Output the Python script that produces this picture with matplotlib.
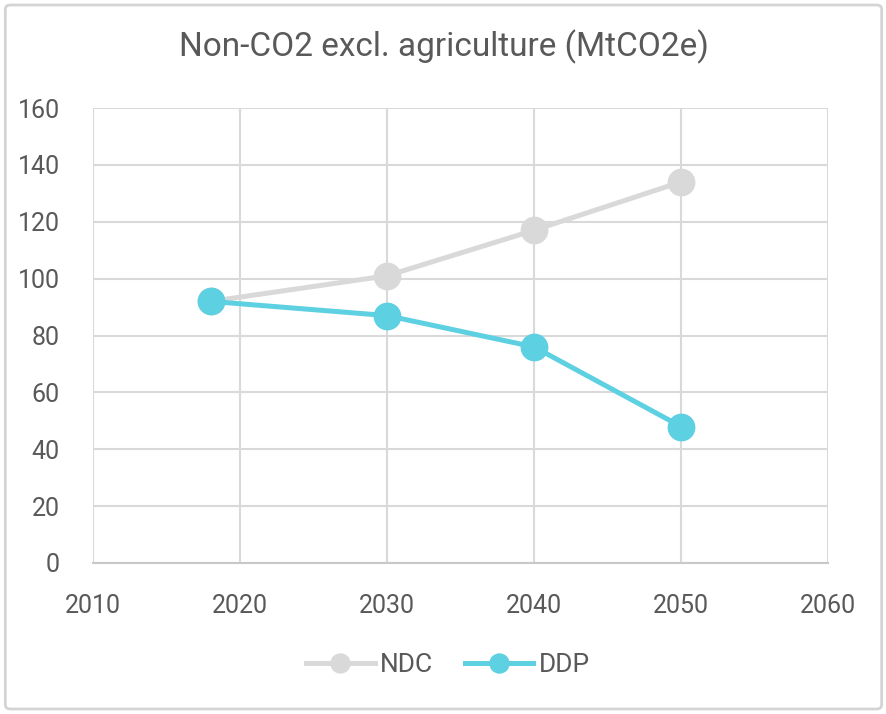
import matplotlib.pyplot as plt
from matplotlib.patches import FancyBboxPatch

years = [2018, 2030, 2040, 2050]
ndc = [92, 101, 117, 134]
ddp = [92, 87, 76, 48]

plt.rcParams['font.family'] = ['Roboto', 'DejaVu Sans']
text_color = '#595959'
grid_color = '#d9d9d9'

fig = plt.figure(figsize=(8.87, 7.14), dpi=100)
ax = fig.add_axes([0.1048, 0.2115, 0.8287, 0.6372])

ax.plot(years, ndc, color='#d9d9d9', lw=3.6, marker='o', ms=19, label='NDC', zorder=3)
ax.plot(years, ddp, color='#5dd0e2', lw=3.6, marker='o', ms=19, label='DDP', zorder=4)

ax.set_xlim(2010, 2060)
ax.set_ylim(0, 160)
ax.set_xticks(range(2010, 2061, 10))
ax.set_yticks(range(0, 161, 20))
ax.grid(True, color=grid_color, lw=1.5)
ax.set_axisbelow(True)
for side in ['top', 'right', 'left']:
    ax.spines[side].set_visible(False)
ax.spines['bottom'].set_color('#c8c8c8')
ax.spines['bottom'].set_linewidth(1.5)
ax.tick_params(length=0, labelsize=18, labelcolor=text_color)
ax.tick_params(axis='y', pad=24)
ax.tick_params(axis='x', pad=22)

fig.text(0.5, 0.934, 'Non-CO2 excl. agriculture (MtCO2e)', ha='center', va='center',
         fontsize=24, color=text_color)

leg = fig.legend(loc='center', bbox_to_anchor=(0.505, 0.068), ncol=2, frameon=False,
                 fontsize=19, handlelength=2.6, columnspacing=1.2, handletextpad=0.2,
                 markerscale=0.72)
for t in leg.get_texts():
    t.set_color(text_color)

border = FancyBboxPatch((0.006, 0.007), 0.988, 0.986, boxstyle='round,pad=0,rounding_size=0.006',
                        transform=fig.transFigure, fill=False, edgecolor='#d4d4d4', lw=2)
fig.patches.append(border)

fig.savefig('out.png', dpi=100)
